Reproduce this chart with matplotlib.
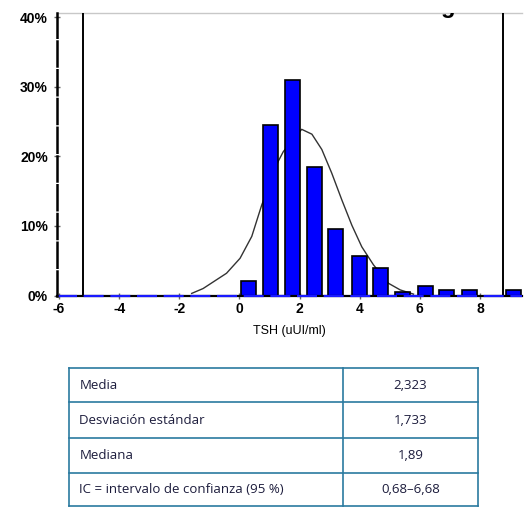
import matplotlib
matplotlib.use('Agg')
import matplotlib.pyplot as plt
from matplotlib.ticker import FuncFormatter

plt.rcParams['axes.unicode_minus'] = False

# ------------------------------------------------------------------
# Data (TSH, % of patients per bin)
bin_centers = [0.30, 1.02, 1.76, 2.50, 3.21, 3.98, 4.70, 5.44, 6.18, 6.90, 7.65, 9.13]
bin_pct = [2.1, 24.5, 31.0, 18.5, 9.6, 5.7, 3.9, 0.45, 1.3, 0.75, 0.75, 0.75]

# fitted normal curve
curve_x = [-1.59, -1.21, -0.43, 0.02, 0.41, 0.74, 1.29, 1.46, 2.07, 2.41, 2.74,
           3.07, 3.41, 3.74, 4.07, 4.46, 4.96, 5.35, 5.79]
curve_y = [0.3, 1.0, 3.2, 5.35, 8.5, 13.0, 19.3, 20.7, 23.9, 23.2, 21.0,
           17.6, 13.7, 10.1, 7.0, 4.4, 1.75, 0.8, 0.2]

# vertical limit lines
limit_lines = [-5.21, 8.76]

x_ticks = [-6, -4, -2, 0, 2, 4, 6, 8]
y_ticks = [0, 10, 20, 30, 40]

# summary table
row_labels = ['Media', 'Desviación estándar', 'Mediana',
              'IC = intervalo de confianza (95 %)']
row_values = ['2,323', '1,733', '1,89', '0,68–6,68']

# ------------------------------------------------------------------
W, H = 531, 515
fig = plt.figure(figsize=(W / 100, H / 100), dpi=100)

def fx(px):
    return px / W

def fy(py):
    return 1 - py / H

# histogram axes
ax = fig.add_axes([fx(57), fy(295.5), fx(522) - fx(57), fy(12.5) - fy(295.5)])
ax.set_xlim(-6.07, 9.40)
ax.set_ylim(0, 40.7)

ax.plot(curve_x, curve_y, color='#333333', lw=1.0, zorder=2)
ax.bar(bin_centers, bin_pct, width=0.5, color='#0000ff',
       edgecolor='black', linewidth=1.2, zorder=3)
for xv in limit_lines:
    ax.axvline(xv, color='black', lw=1.4, zorder=4)

# baseline: blue line with black bits
ax.axhline(0, color='black', lw=1.6, zorder=5, clip_on=False)
ax.axhline(0, color='#1a1aff', lw=1.6, zorder=6, clip_on=False,
           dashes=(9, 3))

ax.spines['right'].set_visible(False)
ax.spines['bottom'].set_visible(False)
ax.spines['top'].set_color('#c8c8c8')
ax.spines['top'].set_linestyle((0, (3, 1)))
ax.spines['top'].set_linewidth(1.0)
ax.spines['left'].set_linewidth(1.8)
ax.spines['left'].set_linestyle((0, (10, 1.5)))
ax.spines['left'].set_zorder(7)

ax.set_xticks(x_ticks)
ax.set_yticks(y_ticks)
ax.yaxis.set_major_formatter(FuncFormatter(lambda v, p: '%d%%' % v))
ax.tick_params(axis='both', direction='inout', length=5, width=1,
               color='#666666', labelsize=10)
ax.tick_params(axis='y', pad=4)
ax.tick_params(axis='x', pad=2)
for lbl in ax.get_xticklabels() + ax.get_yticklabels():
    lbl.set_fontweight('bold')
    lbl.set_family('Liberation Sans')
ax.set_xlabel('TSH (uUI/ml)', fontsize=9, family='Liberation Sans', labelpad=7)

# title letter cut off by the top of the plot frame; only its tail shows
ax.text(fx(441), fy(12.5), 'g', fontsize=17, fontweight='bold',
        family='Liberation Sans', va='baseline', zorder=10,
        transform=fig.transFigure, clip_on=True)

# ------------------------------------------------------------------
# table
tab_col = '#2b7aa0'
tl, tr = 69, 478.3
col_split = 342.7
row_edges = [368.3, 402.3, 437.7, 472.7, 506]

tax = fig.add_axes([0, 0, 1, 1], facecolor='none')
tax.set_xlim(0, W)
tax.set_ylim(H, 0)
tax.axis('off')
for ye in row_edges:
    tax.plot([tl, tr], [ye, ye], color=tab_col, lw=1.2)
for xe in [tl, col_split, tr]:
    tax.plot([xe, xe], [row_edges[0], row_edges[-1]], color=tab_col, lw=1.2)
for i in range(len(row_labels)):
    yc = (row_edges[i] + row_edges[i + 1]) / 2
    tax.text(79.3, yc, row_labels[i], fontsize=9.5, family='Open Sans',
             color='#1c1c3c', va='center', ha='left')
    tax.text((col_split + tr) / 2, yc, row_values[i], fontsize=9.5,
             family='Open Sans', color='#1c1c3c', va='center', ha='center')

plt.savefig('out.png', dpi=100)
